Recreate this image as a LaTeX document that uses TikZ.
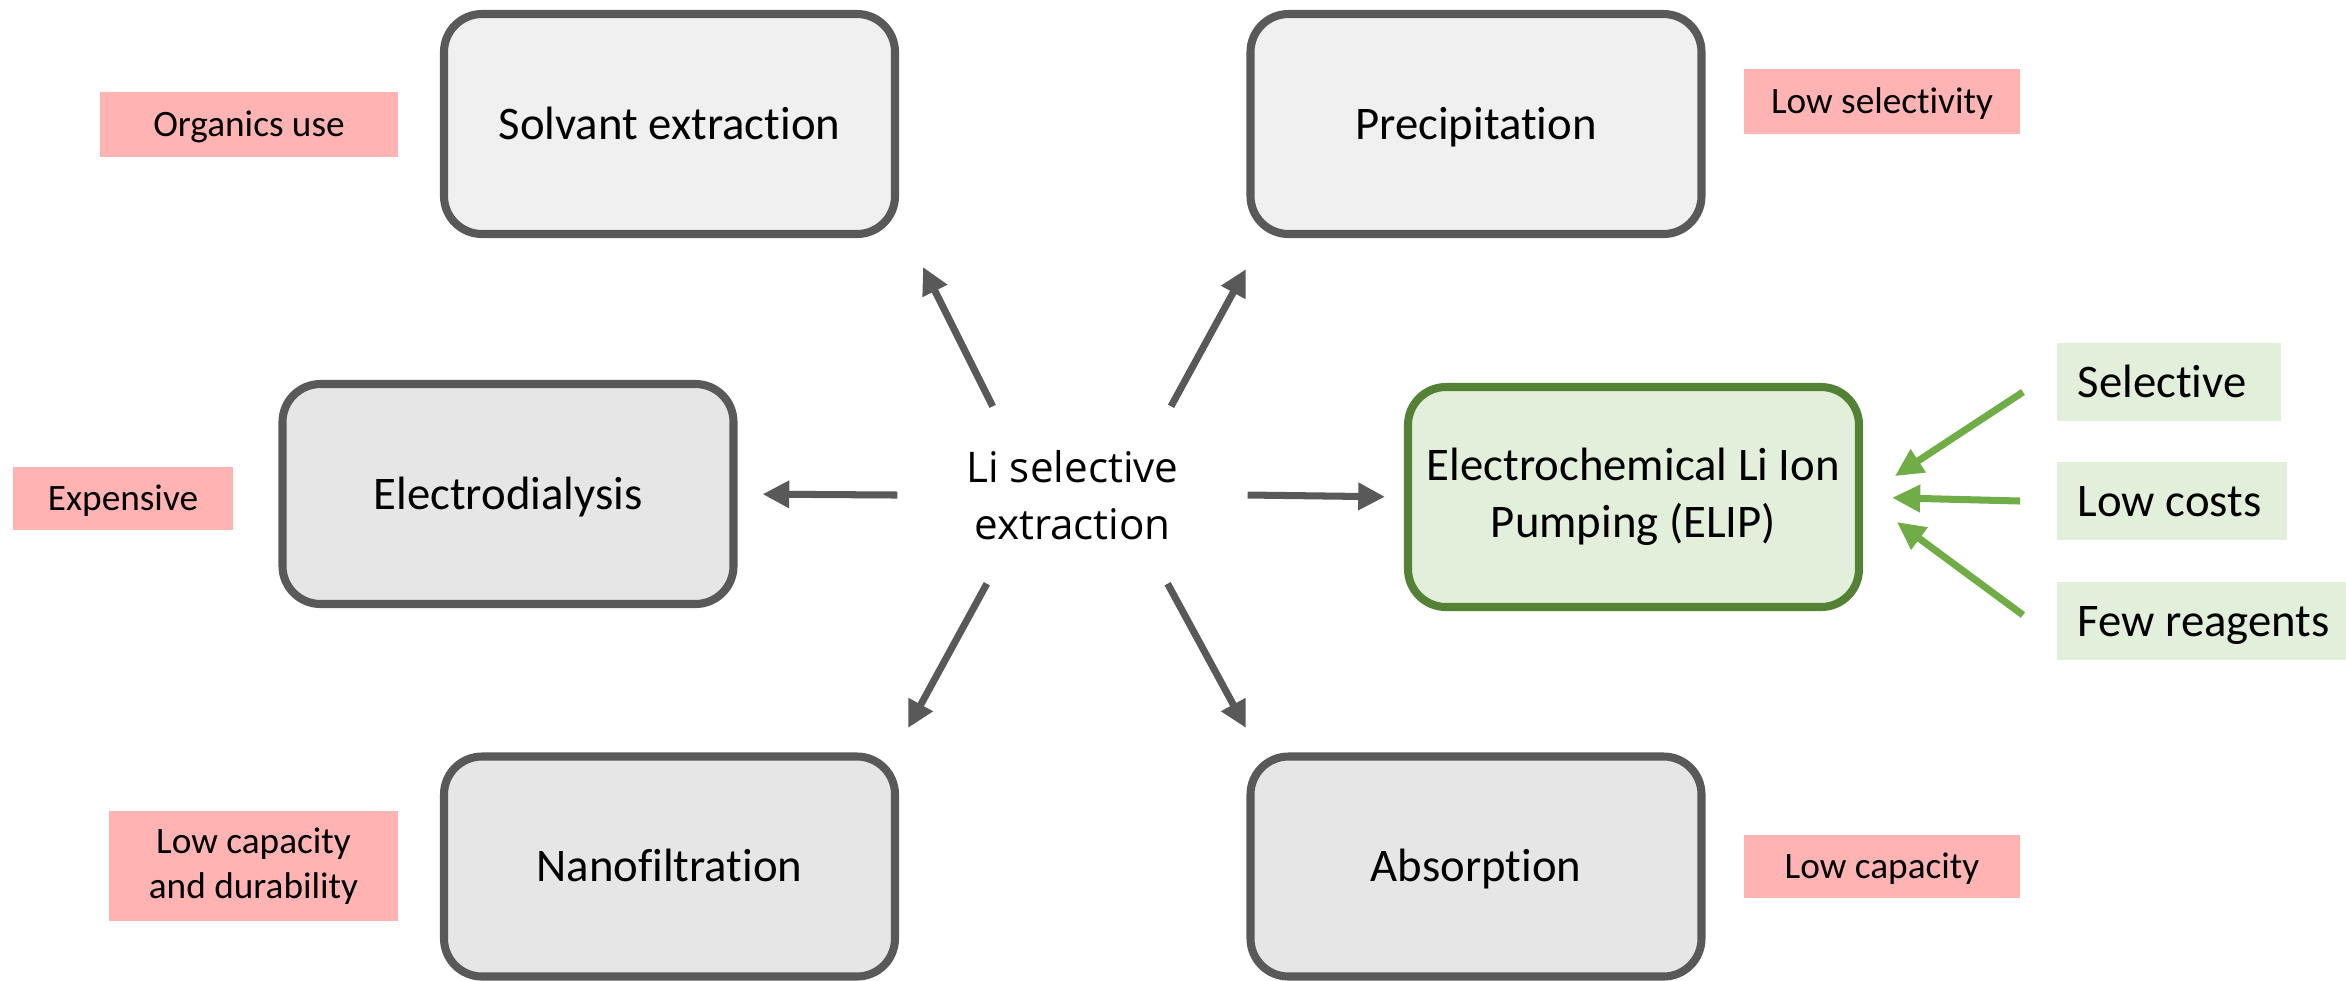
\documentclass[tikz,border=0pt]{standalone}
\usepackage{fontspec}
\setmainfont{Carlito}[Ligatures=NoCommon]
\newfontfamily\hubfont{Open Sans}
\usepackage{xcolor}
\usetikzlibrary{arrows.meta,calc}

\definecolor{boxline}{HTML}{595959}
\definecolor{boxlight}{HTML}{F0F0F0}
\definecolor{boxdark}{HTML}{E6E6E6}
\definecolor{elipline}{HTML}{538135}
\definecolor{elipfill}{HTML}{E2EFDA}
\definecolor{conpink}{HTML}{FFB3B3}
\definecolor{progreen}{HTML}{70AD47}

\begin{document}
\begin{tikzpicture}[
  line cap=butt,
  line join=round,
  method/.style={draw=boxline, line width=2.3pt, rounded corners=0.38cm,
    minimum width=4.51cm, minimum height=2.2cm, align=center,
    font=\fontsize{13.3pt}{16.2pt}\selectfont},
  onerow/.style={text height=0.3cm, text depth=0pt},
  elipbox/.style={method, draw=elipline, fill=elipfill},
  con/.style={fill=conpink, inner sep=0pt, align=center,
    font=\fontsize{10.6pt}{12.8pt}\selectfont},
  pro/.style={fill=elipfill, anchor=west, inner xsep=0.21cm, inner ysep=0pt,
    minimum height=0.78cm, text height=0.3cm, text depth=0pt,
    font=\fontsize{13.3pt}{16.2pt}\selectfont},
  grayarrow/.style={-{Triangle[length=7.6pt,width=7.4pt]}, boxline, line width=2pt},
  greenarrow/.style={-{Triangle[length=8pt,width=7.4pt]}, progreen, line width=2pt}
]
  \useasboundingbox (0,0) rectangle (23.46,-9.8);

  % Centre
  \node[minimum width=3.49cm, minimum height=1.76cm, align=center,
    font=\hubfont\fontsize{12pt}{16.2pt}\selectfont] (li) at (10.725,-4.95)
    {Li selective\\extraction};

  % Methods
  \node[method, onerow, fill=boxlight] (solv) at (6.695,-1.24) {Solvant extraction};
  \node[method, onerow, fill=boxlight] (prec) at (14.76,-1.24) {Precipitation};
  \node[method, onerow, fill=boxdark]  (edia) at (5.08,-4.94) {Electrodialysis};
  \node[elipbox]                       (elip) at (16.335,-4.97) {Electrochemical Li Ion\\Pumping (ELIP)};
  \node[method, onerow, fill=boxdark]  (nano) at (6.695,-8.665) {Nanofiltration};
  \node[method, onerow, fill=boxdark]  (abso) at (14.76,-8.665) {Absorption};

  % Drawbacks
  \node[con, text height=0.24cm, text depth=0pt, minimum width=2.98cm, minimum height=0.65cm] (orga) at (2.49,-1.245) {Organics use};
  \node[con, text height=0.24cm, text depth=0pt, minimum width=2.76cm, minimum height=0.65cm] (lsel) at (18.82,-1.015) {Low selectivity};
  \node[con, text height=0.24cm, text depth=0pt, minimum width=2.2cm, minimum height=0.63cm] (expe) at (1.23,-4.985) {Expensive};
  \node[con, minimum width=2.89cm, minimum height=1.1cm] (ldur) at (2.535,-8.66) {Low capacity\\and durability};
  \node[con, text height=0.24cm, text depth=0pt, minimum width=2.76cm, minimum height=0.63cm] (lcap) at (18.82,-8.665) {Low capacity};

  % Advantages
  \node[pro] (sele) at (20.56,-3.82) {\makebox[1.82cm][l]{Selective}};
  \node[pro] (lcos) at (20.56,-5.01) {\makebox[1.88cm][l]{Low costs}};
  \node[pro] (fewr) at (20.56,-6.21) {\makebox[2.48cm][l]{Few reagents}};

  % Arrow ends
  \coordinate (solv-in) at (9.23,-2.67);
  \coordinate (prec-in) at (12.46,-2.69);
  \coordinate (nano-in) at (9.08,-7.28);
  \coordinate (abso-in) at (12.46,-7.28);
  \coordinate (sele-out) at (20.23,-3.92);
  \coordinate (lcos-out) at (20.20,-5.01);
  \coordinate (fewr-out) at (20.23,-6.15);

  % Centre to methods
  \draw[grayarrow] (li.132.5) -- (solv-in);
  \draw[grayarrow] (li.42.4) -- (prec-in);
  \draw[grayarrow, shorten >=0.25cm] (li.west) -- (edia.east);
  \draw[grayarrow, shorten >=0.19cm] (li.east) -- (elip.west);
  \draw[grayarrow] (li.226.8) -- (nano-in);
  \draw[grayarrow] (li.317.9) -- (abso-in);

  % Advantages to ELIP
  \draw[greenarrow, shorten >=0.38cm] (sele-out) -- (elip.east);
  \draw[greenarrow, shorten >=0.29cm] (lcos-out) -- (elip.east);
  \draw[greenarrow, shorten >=0.42cm] (fewr-out) -- (elip.east);
\end{tikzpicture}
\end{document}
